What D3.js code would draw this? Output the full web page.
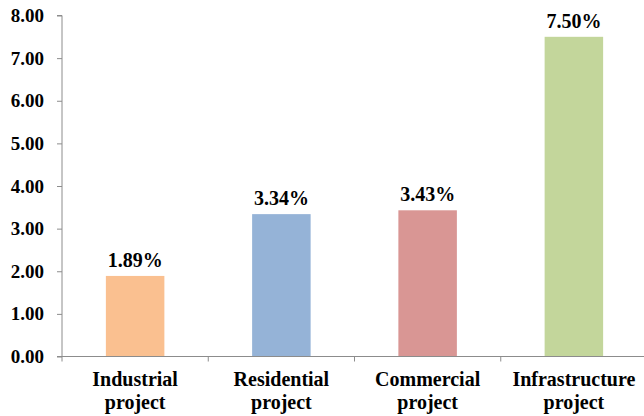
<!DOCTYPE html>
<html>
<head>
<meta charset="utf-8">
<script src="https://cdn.jsdelivr.net/npm/d3@7"></script>
<style>
  html, body { margin: 0; padding: 0; background: #fff; }
  svg { display: block; }
</style>
</head>
<body>
<svg id="chart" width="644" height="416"></svg>
<script>
// Project types and their rates (%)
const categories = ["Industrial project", "Residential project", "Commercial project", "Infrastructure project"];
const values = [1.89, 3.34, 3.43, 7.50];
const barColors = ["#FAC090", "#95B3D7", "#D99694", "#C3D69B"];
const yTicks = [0, 1, 2, 3, 4, 5, 6, 7, 8];

const FONT = "'Liberation Serif', 'Times New Roman', serif";
const AXIS_GRAY = "#8c8c8c";

const svg = d3.select("#chart");
const margin = { left: 62, right: -3, top: 15.5, bottom: 59.5 };
const W = 644, H = 416;

const x = d3.scaleBand()
  .domain(categories)
  .range([margin.left, W - margin.right])
  .paddingInner(0.6)
  .paddingOuter(0.3);

const y = d3.scaleLinear()
  .domain([0, 8])
  .range([H - margin.bottom, margin.top]);

// bars
svg.append("g").selectAll("rect")
  .data(values)
  .join("rect")
  .attr("x", (d, i) => x(categories[i]))
  .attr("y", d => y(d))
  .attr("width", x.bandwidth())
  .attr("height", d => y(0) - y(d))
  .attr("fill", (d, i) => barColors[i]);

// value labels above bars
svg.append("g").selectAll("text")
  .data(values)
  .join("text")
  .attr("x", (d, i) => x(categories[i]) + x.bandwidth() / 2)
  .attr("y", d => y(d) - 9)
  .attr("text-anchor", "middle")
  .style("font-family", FONT)
  .style("font-weight", "bold")
  .style("font-size", "20px")
  .attr("fill", "#000")
  .text(d => d.toFixed(2) + "%");

// y axis
const yAxis = svg.append("g")
  .attr("transform", `translate(${margin.left},0)`)
  .call(d3.axisLeft(y).tickValues(yTicks).tickFormat(d3.format(".2f")).tickSize(5).tickPadding(13));
yAxis.select(".domain").attr("stroke", AXIS_GRAY).attr("d", `M-5,${y(8)}H0V${y(0)}`);
yAxis.selectAll(".tick line").attr("stroke", AXIS_GRAY);
yAxis.selectAll(".tick text")
  .style("font-family", FONT)
  .style("font-weight", "bold")
  .style("font-size", "19px")
  .attr("fill", "#000");

// x axis with ticks at category boundaries
const xAxisG = svg.append("g").attr("transform", `translate(0,${y(0)})`);
const [x0, x1] = x.range();
xAxisG.append("line")
  .attr("x1", x0 - 5).attr("x2", x1)
  .attr("y1", 0).attr("y2", 0)
  .attr("stroke", AXIS_GRAY);
const step = x.step();
const boundaries = categories.map((c, i) => x0 + i * step);
xAxisG.selectAll(".bnd")
  .data(boundaries)
  .join("line")
  .attr("class", "bnd")
  .attr("x1", d => d).attr("x2", d => d)
  .attr("y1", 0).attr("y2", 5)
  .attr("stroke", AXIS_GRAY);

// category labels on two lines
const lab = svg.append("g").selectAll("text")
  .data(categories)
  .join("text")
  .attr("text-anchor", "middle")
  .attr("transform", d => `translate(${x(d) + x.bandwidth() / 2},386)`)
  .style("font-family", FONT)
  .style("font-weight", "bold")
  .style("font-size", "20px")
  .attr("fill", "#000");
lab.each(function (d) {
  const parts = d.split(" ");
  const t = d3.select(this);
  parts.forEach((p, i) => {
    t.append("tspan").attr("x", 0).attr("y", i * 23).text(p);
  });
});
</script>
</body>
</html>
